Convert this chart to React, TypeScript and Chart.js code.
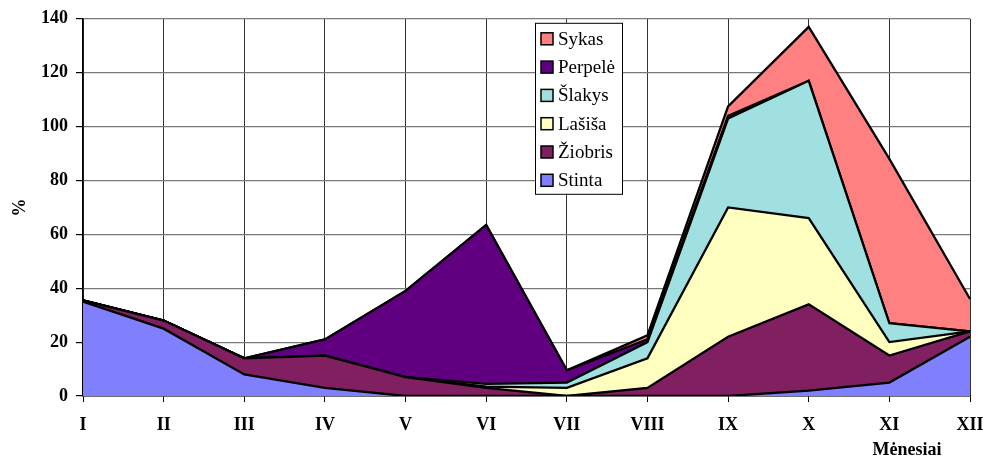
import React, { useEffect, useRef } from "react";
import { Chart, registerables } from "chart.js";

Chart.register(...registerables);

const months = ["I", "II", "III", "IV", "V", "VI", "VII", "VIII", "IX", "X", "XI", "XII"];
const stinta = [35, 25, 8, 3, 0, 0, 0, 0, 0, 2, 5, 22];
const ziobris = [0.5, 3, 6, 12, 7, 3, 0, 3, 22, 32, 10, 2];
const lasisa = [0, 0, 0, 0, 0, 0.5, 3, 11, 48, 32, 5, 0];
const slakys = [0, 0, 0, 0, 0, 1, 2, 6, 33, 51, 7, 0];
const perpele = [0, 0, 0, 6, 32, 59, 4.5, 1, 1, 0, 0, 0];
const sykas = [0, 0, 0, 0, 0, 0, 0, 1.5, 3.5, 20, 61, 12];

const seriesNames = ["Stinta", "Žiobris", "Lašiša", "Šlakys", "Perpelė", "Sykas"];
const seriesColors = ["#8080FF", "#802060", "#FFFFC0", "#A0E0E0", "#600080", "#FF8080"];
const seriesData = [stinta, ziobris, lasisa, slakys, perpele, sykas];

const yTicks = [0, 20, 40, 60, 80, 100, 120, 140];
const yTitle = "%";
const xTitle = "Mėnesiai";

const FONT = "'Liberation Serif', 'Times New Roman', serif";

const overlayPlugin = {
  id: "overlay",
  afterDraw(chart: any) {
    const ctx = chart.ctx;
    const ca = chart.chartArea;
    ctx.save();
    ctx.fillStyle = "#000";
    ctx.font = `bold 18px ${FONT}`;
    ctx.textAlign = "center";
    ctx.textBaseline = "middle";
    ctx.save();
    ctx.translate(20, (ca.top + ca.bottom) / 2);
    ctx.rotate(-Math.PI / 2);
    ctx.fillText(yTitle, 0, 0);
    ctx.restore();
    ctx.font = `bold 18px ${FONT}`;
    ctx.fillText(xTitle, ca.right - 63, 450);

    // legend
    const lx = ca.left + 452;
    const ly = ca.top + 4;
    const lw = 87;
    const lh = 171;
    ctx.fillStyle = "#fff";
    ctx.fillRect(lx, ly, lw, lh);
    ctx.strokeStyle = "#000";
    ctx.lineWidth = 1;
    ctx.strokeRect(lx + 0.5, ly + 0.5, lw, lh);
    ctx.font = `19px ${FONT}`;
    ctx.textAlign = "left";
    ctx.textBaseline = "middle";
    for (let i = 0; i < seriesNames.length; i++) {
      const idx = seriesNames.length - 1 - i;
      const cy = ly + 16 + i * 28.3;
      ctx.fillStyle = seriesColors[idx];
      ctx.fillRect(lx + 6, cy - 6, 12, 12);
      ctx.strokeStyle = "#000";
      ctx.lineWidth = 1.5;
      ctx.strokeRect(lx + 6, cy - 6, 12, 12);
      ctx.fillStyle = "#000";
      ctx.fillText(seriesNames[idx], lx + 23, cy + 1);
    }
    ctx.restore();
  },
};

export default function App() {
  const ref = useRef<HTMLCanvasElement | null>(null);
  useEffect(() => {
    document.body.style.margin = "0";
    const canvas = ref.current!;
    const chart = new Chart(canvas, {
      type: "line",
      data: {
        labels: months,
        datasets: seriesData.map((d, i) => ({
          label: seriesNames[i],
          data: d,
          backgroundColor: seriesColors[i],
          borderColor: "#000",
          borderWidth: 2.3,
          pointRadius: 0,
          tension: 0,
          fill: i === 0 ? "origin" : "-1",
        })),
      },
      options: {
        animation: false,
        responsive: false,
        maintainAspectRatio: false,
        layout: { padding: { left: 0, top: 18, right: 19, bottom: 0 } },
        plugins: {
          legend: { display: false },
          tooltip: { enabled: false },
        },
        scales: {
          x: {
            offset: false,
            afterFit(scale: any) {
              scale.height = 62;
              scale.paddingRight = 0;
              scale.paddingLeft = 0;
            },
            grid: {
              color: "#333",
              lineWidth: 1,
              tickLength: 6,
              drawTicks: true,
              tickColor: "#000",
            },
            border: { color: "#000", width: 1.5 },
            ticks: {
              color: "#000",
              font: { family: FONT, size: 18, weight: "bold" },
              padding: 13,
              maxRotation: 0,
              autoSkip: false,
            },
          },
          y: {
            stacked: true,
            min: 0,
            max: 140,
            afterFit(scale: any) {
              scale.width = 83;
            },
            afterBuildTicks(scale: any) {
              scale.ticks = yTicks.map((v) => ({ value: v }));
            },
            grid: {
              color: "#7a7a7a",
              lineWidth: 1.2,
              tickLength: 7,
              tickColor: "#000",
            },
            border: { color: "#000", width: 1.5 },
            ticks: {
              color: "#000",
              font: { family: FONT, size: 18, weight: "bold" },
              padding: 8,
            },
          },
        },
      },
      plugins: [overlayPlugin],
    });
    return () => chart.destroy();
  }, []);
  return (
    <div style={{ position: "fixed", left: 0, top: 0, width: 989, height: 458, background: "#fff" }}>
      <canvas ref={ref} width={989} height={458} style={{ width: 989, height: 458 }} />
    </div>
  );
}
